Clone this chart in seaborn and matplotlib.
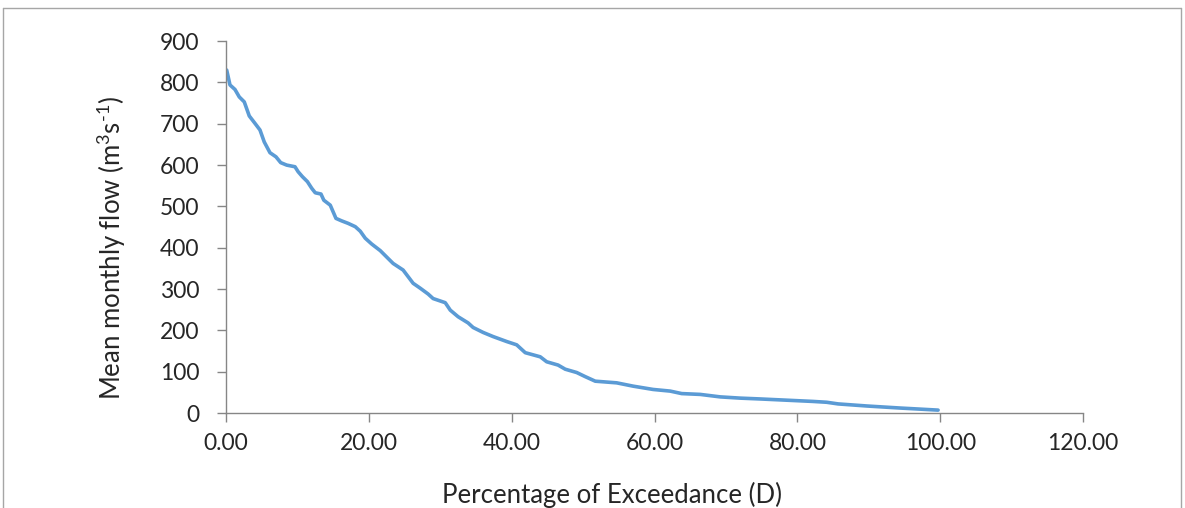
import matplotlib
matplotlib.use("Agg")
import matplotlib.pyplot as plt
from matplotlib.lines import Line2D
import seaborn as sns
import pandas as pd

# Flow duration curve: exceedance percentage vs mean monthly flow
exceedance_pct = [0.1, 0.56, 1.26, 1.86, 2.56, 3.26, 4.06, 4.76, 5.36, 6.16,
                  7.0, 7.66, 8.5, 9.66, 10.1, 10.7, 11.4, 12.0, 12.5, 13.3,
                  13.7, 14.6, 15.4, 16.2, 17.1, 18.1, 18.8, 19.5, 20.4, 21.6,
                  22.7, 23.4, 24.8, 25.5, 26.2, 27.2, 28.3, 29.0, 30.7, 31.4,
                  32.5, 33.9, 34.6, 36.0, 37.4, 39.3, 40.7, 41.9, 44.0, 44.9,
                  46.5, 47.5, 49.1, 50.3, 51.7, 54.7, 57.0, 59.8, 62.2, 63.8,
                  66.4, 69.2, 72.0, 74.8, 78.5, 82.2, 84.1, 85.7, 89.7, 94.4,
                  99.7]
mean_flow = [830, 794, 783, 765, 753, 719, 701, 685, 656, 630,
             620, 606, 600, 596, 584, 572, 560, 544, 533, 530,
             515, 503, 471, 465, 459, 451, 440, 423, 409, 393,
             374, 362, 346, 330, 314, 302, 288, 277, 267, 249,
             233, 218, 207, 195, 185, 173, 165, 146, 136, 124,
             116, 106, 98, 88, 77, 73, 65, 57, 53, 47,
             45, 39, 36, 34, 31, 28, 26, 22, 17, 12,
             7]
x_ticks = [0, 20, 40, 60, 80, 100, 120]
y_ticks = [0, 100, 200, 300, 400, 500, 600, 700, 800, 900]

sns.set_style("white")
plt.rcParams["font.family"] = ["Lato", "DejaVu Sans"]
plt.rcParams["mathtext.fontset"] = "custom"
plt.rcParams["mathtext.rm"] = "Lato"
plt.rcParams["mathtext.it"] = "Lato"
plt.rcParams["mathtext.default"] = "regular"

df = pd.DataFrame({"pct": exceedance_pct, "flow": mean_flow})

fig = plt.figure(figsize=(11.85, 5.08), dpi=100)
ax = fig.add_axes([0.1907, 0.187, 0.7233, 0.732])

sns.lineplot(data=df, x="pct", y="flow", ax=ax, color="#5B9BD5",
             linewidth=2.6, sort=False)

ax.set_xlim(0, 120)
ax.set_ylim(0, 900)
ax.set_xticks(x_ticks)
ax.set_xticklabels([f"{v:.2f}" for v in x_ticks])
ax.set_yticks(y_ticks)
ax.set_yticklabels([str(v) for v in y_ticks])

spine_col = "#868686"
for side in ["top", "right"]:
    ax.spines[side].set_visible(False)
for side in ["left", "bottom"]:
    ax.spines[side].set_color(spine_col)
    ax.spines[side].set_linewidth(1.0)

ax.tick_params(axis="x", direction="out", length=6.5, width=1, color=spine_col,
               labelsize=16.5, pad=8, bottom=True)
ax.tick_params(axis="y", direction="out", length=6.3, width=1, color=spine_col,
               labelsize=16.5, pad=13, left=True)

ax.set_xlabel("Percentage of Exceedance (D)", fontsize=18.5)
ax.set_ylabel(r"Mean monthly flow (m$^{3}$s$^{\text{-1}}$)", fontsize=18.5)
ax.xaxis.set_label_coords(0.4504, -0.186)
ax.yaxis.set_label_coords(-0.114, 0.444)

# Outer chart frame (open at the bottom)
frame_col = "#a6a6a6"
W, H = 1185, 508
fx0, fx1, fy_top = 3 / W, 1181 / W, 1 - 8 / H
for xs, ys in [([fx0, fx1], [fy_top, fy_top]),
               ([fx0, fx0], [fy_top, 0]),
               ([fx1, fx1], [fy_top, 0])]:
    fig.add_artist(Line2D(xs, ys, transform=fig.transFigure,
                          color=frame_col, linewidth=1.0))

fig.savefig("out.png", dpi=100)
